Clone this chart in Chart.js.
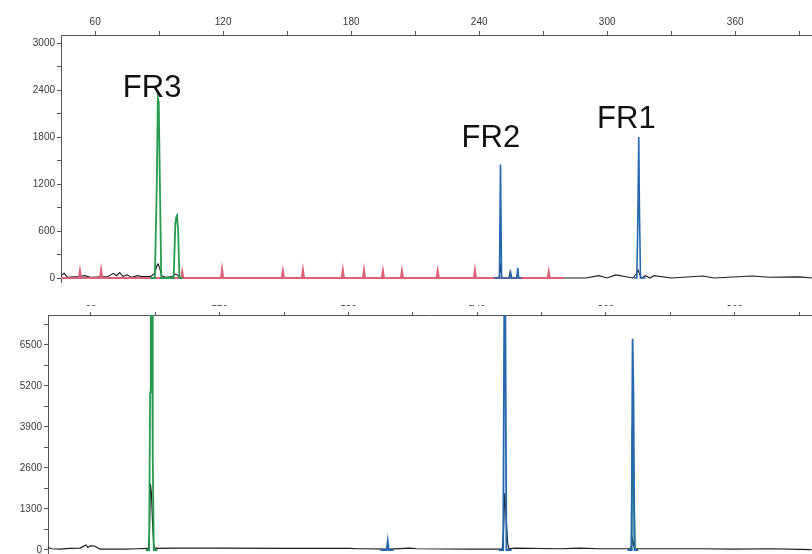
<!DOCTYPE html>
<html>
<head>
<meta charset="utf-8">
<script src="https://cdn.jsdelivr.net/npm/chart.js@4.4.1/dist/chart.umd.min.js"></script>
<style>
  html, body { margin: 0; padding: 0; background: #ffffff; }
  #wrap { position: relative; width: 812px; height: 554px; overflow: hidden; background: #fff; }
  #topBox { position: absolute; left: 0; top: 0; width: 812px; height: 290px; }
  #botBox { position: absolute; left: 0; top: 288px; width: 812px; height: 274px; }
</style>
</head>
<body>
<div id="wrap">
  <div id="topBox"><canvas id="topChart" width="812" height="290"></canvas></div>
  <div id="botBox"><canvas id="botChart" width="812" height="274"></canvas></div>
</div>
<script>
// ---------- axis ticks ----------
const xTickValues = [60, 90, 120, 150, 180, 210, 240, 270, 300, 330, 360, 390];
const xTickLabels = ['60', '', '120', '', '180', '', '240', '', '300', '', '360', ''];
const topYTickValues = [0, 300, 600, 900, 1200, 1500, 1800, 2100, 2400, 2700, 3000];
const topYTickLabels = ['0', '', '600', '', '1200', '', '1800', '', '2400', '', '3000'];
const botYTickValues = [0, 650, 1300, 1950, 2600, 3250, 3900, 4550, 5200, 5850, 6500, 7150];
const botYTickLabels = ['0', '', '1300', '', '2600', '', '3900', '', '5200', '', '6500', ''];

// ---------- peak labels (top panel) ----------
const peakNames = ['FR3', 'FR2', 'FR1'];
const peakLabelX = [86.7, 245.5, 309.0];
const peakLabelY = [2420, 1780, 2030];

// ---------- TOP panel traces (null = break in the trace) ----------
const topGreenX = [86.0, 88.0, 88.9, 89.4, 89.8, 90.3, 91.0, 96.8, 97.6, 98.0, 98.4, 98.9, 99.5, 101];
const topGreenY = [0, 0, 1200, 2300, 2250, 1300, 0, 0, 700, 780, 800, 600, 0, 0];

const topBlueX = [247, 249.5, 250.0, 250.5, 252, 254.4, 254.8, 255.2, 257.7, 258.1, 258.5, 260, 285, 312.5, 313.9, 314.4, 314.8, 315.1, 315.6, 318];
const topBlueY = [0, 0, 1450, 0, 0, 0, 60, 0, 0, 130, 0, 0, null, 0, 0, 800, 1800, 900, 0, 0];

const topRedX = [44, 52.4, 52.9, 53.4, 62.3, 62.8, 63.3, 100.3, 100.8, 101.3, 119.0, 119.5, 120.0, 147.5, 148.0, 148.5, 156.9, 157.4, 157.9, 175.6, 176.1, 176.6, 185.5, 186.0, 186.5, 194.4, 194.9, 195.4, 203.3, 203.8, 204.3, 220.1, 220.6, 221.1, 237.5, 238.0, 238.5, 272.1, 272.6, 273.1, 280];
const topRedY = [0, 0, 90, 0, 0, 100, 0, 0, 80, 0, 0, 110, 0, 0, 90, 0, 0, 100, 0, 0, 100, 0, 0, 100, 0, 0, 90, 0, 0, 90, 0, 0, 90, 0, 0, 100, 0, 0, 80, 0, 0];

const topBlackX = [44, 45.5, 47, 52, 55, 58, 66, 68.5, 70, 71.5, 73, 75, 77, 80, 81.5, 86, 88.0, 88.8, 89.5, 90.3, 91.2, 93, 96.5, 97.5, 98.5, 99.5, 102, 249.3, 250, 250.7, 253.9, 254.5, 255.1, 257.4, 258, 258.6, 280, 290, 296, 300, 304, 312, 313.8, 314.5, 315.3, 316.2, 318, 320, 322, 330, 345, 350, 368, 376, 390, 396];
const topBlackY = [30, 60, 10, 20, 30, 10, 20, 60, 30, 70, 20, 40, 10, 30, 20, 20, 60, 150, 180, 120, 30, 10, 20, 50, 40, 10, 0, 0, 150, 0, 0, 80, 0, 0, 60, 0, 0, 0, 30, 0, 40, 0, 60, 100, 40, 0, 30, 0, 30, 0, 25, 0, 25, 10, 15, 0];

// ---------- BOTTOM panel traces ----------
const botGreenX = [85.5, 87.1, 87.6, 87.9, 88.5, 88.8, 89.3, 91, 150, 310.5, 311.9, 312.3, 312.9, 313.5, 315];
const botGreenY = [0, 0, 5000, 7700, 7700, 3000, 0, 0, null, 0, 0, 3800, 2000, 0, 0];

const botBlueX = [195, 197.8, 198.3, 198.8, 201, 225, 250, 252.1, 252.6, 253.1, 253.6, 256, 280, 310, 311.9, 312.4, 312.8, 313.3, 315];
const botBlueY = [0, 0, 290, 0, 0, null, 0, 0, 7700, 7700, 0, 0, null, 0, 0, 6700, 5000, 0, 0];

const botBlackX = [40, 41.8, 45.6, 50, 54.9, 57.7, 58.6, 60, 61.9, 64.2, 75.8, 81.4, 85.6, 86.8, 87.3, 87.7, 88.2, 88.7, 89.2, 89.8, 99.6, 120, 150.4, 160.6, 180.6, 184.4, 187.6, 197.8, 198.3, 198.8, 208.6, 211.8, 236.5, 251.7, 252.3, 252.8, 253.5, 254.2, 254.8, 257.5, 278.4, 287.8, 297.1, 311.2, 311.9, 312.4, 312.9, 313.5, 318, 343.7, 360, 376.3, 390.2, 395.8];
const botBlackY = [80, 40, 30, 50, 60, 160, 80, 140, 120, 30, 30, 40, 50, 60, 600, 2100, 1800, 900, 200, 50, 60, 60, 50, 50, 50, 40, 40, 30, 80, 30, 60, 40, 30, 30, 700, 1800, 1000, 200, 40, 60, 40, 60, 40, 40, 120, 350, 150, 40, 40, 40, 30, 40, 20, 10];

// ---------- helpers ----------
function pts(xs, ys) { return xs.map((x, i) => ({ x: x, y: ys[i] })); }
const GREEN = 'rgb(38,156,78)';
const BLUE = 'rgb(36,104,178)';
const RED = 'rgb(222,96,120)';
const BLACK = 'rgb(30,30,30)';
const AXIS = '#555555';
const TXT = '#3a3a3a';
const FONT_FAMILY = '"Liberation Sans", Arial, sans-serif';

function ds(label, xs, ys, color, width, order) {
  return { label: label, data: pts(xs, ys), borderColor: color, backgroundColor: color,
           borderWidth: width, pointRadius: 0, tension: 0, fill: false, order: order, spanGaps: false };
}

function xScale(min) {
  return {
    type: 'linear', position: 'top', min: min, max: 396,
    afterBuildTicks: s => { s.ticks = xTickValues.map(v => ({ value: v })); },
    ticks: {
      autoSkip: false, maxRotation: 0, padding: 3, color: TXT,
      font: { family: FONT_FAMILY, size: 10 },
      callback: (v, i) => xTickLabels[i]
    },
    grid: { drawOnChartArea: false, drawTicks: true, tickLength: 4, color: AXIS },
    border: { display: true, color: AXIS, width: 1 }
  };
}

function yScale(min, max, vals, labels, width) {
  return {
    type: 'linear', position: 'left', min: min, max: max,
    afterBuildTicks: s => { s.ticks = vals.map(v => ({ value: v })); },
    afterFit: s => { s.width = width; },
    ticks: {
      autoSkip: false, padding: 2, color: TXT,
      font: { family: FONT_FAMILY, size: 10 },
      callback: (v, i) => labels[i]
    },
    grid: { drawOnChartArea: false, drawTicks: true, tickLength: 4, color: AXIS },
    border: { display: true, color: AXIS, width: 1 }
  };
}

const whiteBg = {
  id: 'whiteBg',
  beforeDraw(chart) {
    const c = chart.ctx; c.save(); c.fillStyle = '#fff';
    c.fillRect(0, 0, chart.width, chart.height); c.restore();
  }
};

const peakText = {
  id: 'peakText',
  afterDatasetsDraw(chart) {
    const c = chart.ctx, xs = chart.scales.x, ys = chart.scales.y;
    c.save();
    c.fillStyle = '#111';
    c.font = '31px ' + FONT_FAMILY;
    c.textAlign = 'center'; c.textBaseline = 'middle';
    peakNames.forEach((n, i) => {
      c.fillText(n, xs.getPixelForValue(peakLabelX[i]), ys.getPixelForValue(peakLabelY[i]));
    });
    c.restore();
  }
};

// clip the bottom panel's x tick labels like the scanned original
const clipTop = {
  id: 'clipTop',
  beforeDraw(chart) {
    const c = chart.ctx; c.save();
    c.beginPath(); c.rect(0, 17, chart.width, chart.height); c.clip();
  },
  afterDraw(chart) { chart.ctx.restore(); }
};

const common = {
  responsive: false, animation: false, devicePixelRatio: 1,
  plugins: { legend: { display: false }, tooltip: { enabled: false } },
  elements: { line: { borderJoinStyle: 'miter' } }
};

// ---------- TOP chart ----------
const topX = xScale(44);
topX.afterFit = s => { s.height = 35; };
new Chart(document.getElementById('topChart'), {
  type: 'line',
  data: { datasets: [
    ds('blue', topBlueX, topBlueY, BLUE, 1.6, 1),
    ds('green', topGreenX, topGreenY, GREEN, 1.8, 2),
    ds('red', topRedX, topRedY, RED, 2.0, 3),
    ds('black', topBlackX, topBlackY, BLACK, 1.1, 4)
  ]},
  options: Object.assign({}, common, {
    layout: { padding: { left: 0, right: 0, top: 0, bottom: 2 } },
    scales: { x: topX, y: yScale(-51, 3103, topYTickValues, topYTickLabels, 61) }
  }),
  plugins: [whiteBg, peakText]
});

// ---------- BOTTOM chart ----------
const botX = xScale(40);
botX.afterFit = s => { s.height = 27; };
botX.grid = { drawOnChartArea: false, drawTicks: true, tickLength: 3, color: AXIS };
new Chart(document.getElementById('botChart'), {
  type: 'line',
  data: { datasets: [
    ds('blue', botBlueX, botBlueY, BLUE, 1.8, 1),
    ds('green', botGreenX, botGreenY, GREEN, 1.8, 2),
    ds('black', botBlackX, botBlackY, BLACK, 1.2, 4)
  ]},
  options: Object.assign({}, common, {
    layout: { padding: { left: 0, right: 0, top: 0, bottom: 1 } },
    scales: { x: botX, y: yScale(-127, 7450, botYTickValues, botYTickLabels, 48) }
  }),
  plugins: [whiteBg, clipTop]
});
</script>
</body>
</html>
